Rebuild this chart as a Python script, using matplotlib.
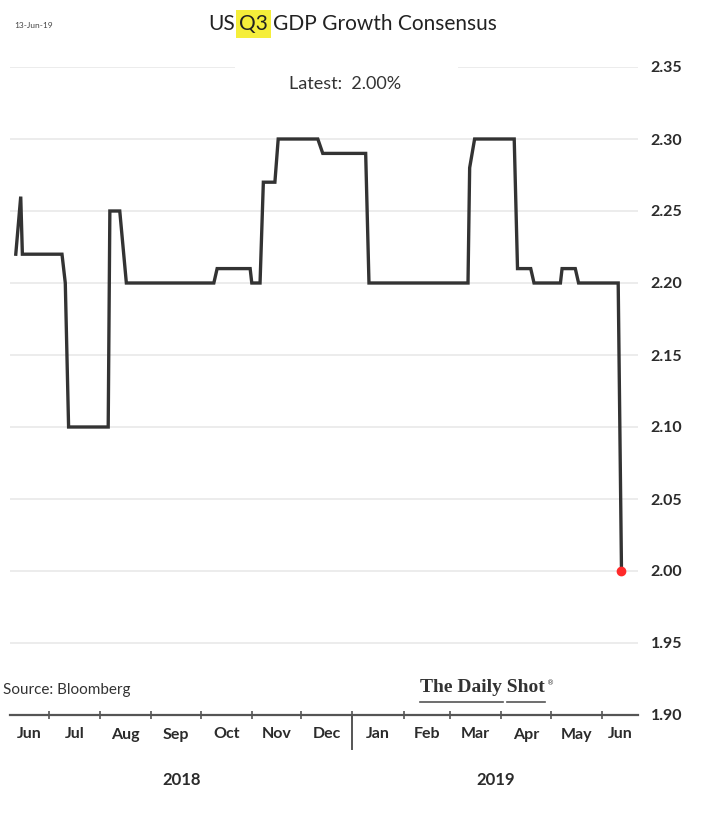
import datetime as dt
import numpy as np
import matplotlib
matplotlib.use("Agg")
import matplotlib.pyplot as plt
import matplotlib.dates as mdates
from matplotlib.patches import Rectangle
from matplotlib.lines import Line2D

plt.rcParams['font.family'] = ['Lato', 'DejaVu Sans']

# consensus estimate, points where the series changes
dates = ["2018-06-11", "2018-06-14", "2018-06-15", "2018-07-09", "2018-07-11",
         "2018-07-13", "2018-08-06", "2018-08-07", "2018-08-13", "2018-08-17",
         "2018-10-09", "2018-10-11", "2018-10-31", "2018-11-01", "2018-11-06",
         "2018-11-08", "2018-11-15", "2018-11-17", "2018-12-11", "2018-12-14",
         "2019-01-09", "2019-01-11", "2019-03-12", "2019-03-13", "2019-03-16",
         "2019-04-09", "2019-04-11", "2019-04-19", "2019-04-21", "2019-05-07",
         "2019-05-08", "2019-05-16", "2019-05-18", "2019-06-11", "2019-06-13"]
values = [2.22, 2.26, 2.22, 2.22, 2.20,
          2.10, 2.10, 2.25, 2.25, 2.20,
          2.20, 2.21, 2.21, 2.20, 2.20,
          2.27, 2.27, 2.30, 2.30, 2.29,
          2.29, 2.20, 2.20, 2.28, 2.30,
          2.30, 2.21, 2.21, 2.20, 2.20,
          2.21, 2.21, 2.20, 2.20, 2.00]
yticks = [1.90, 1.95, 2.00, 2.05, 2.10, 2.15, 2.20, 2.25, 2.30, 2.35]
latest = values[-1]

x = [dt.datetime.strptime(d, "%Y-%m-%d") for d in dates]
x0 = dt.datetime(2018, 6, 7, 12)
x1 = dt.datetime(2019, 6, 23)

fig = plt.figure(figsize=(7.04, 8.25), dpi=100)
ax = fig.add_axes([10 / 704, 110 / 825, 628 / 704, 648 / 825])

for v in yticks[1:]:
    ax.axhline(v, color='#ebebeb', lw=1.3, zorder=1)

ax.plot(x, values, color='#333333', lw=2.4, solid_joinstyle='miter', zorder=3)
ax.plot(x[-1], values[-1], 'o', color='#ff2a2a', ms=6, zorder=4)

ax.set_xlim(x0, x1)
ax.set_ylim(yticks[0], yticks[-1])
for s in ['top', 'left', 'right']:
    ax.spines[s].set_visible(False)
ax.spines['bottom'].set_color('#555555')
ax.spines['bottom'].set_linewidth(1.6)

ax.yaxis.tick_right()
ax.set_yticks(yticks)
ax.set_yticklabels([f"{v:.2f}" for v in yticks])
ax.tick_params(axis='y', length=0, pad=9, labelsize=11.5, labelcolor='#2b2b2b')
for lab in ax.get_yticklabels():
    lab.set_fontweight('bold')

# month boundaries as ticks, names centred in each visible month
month_starts = [dt.datetime(2018, 6, 1)] + \
    [dt.datetime(2018 + (m - 1) // 12, (m - 1) % 12 + 1, 1) for m in range(7, 20)]
ax.set_xticks([m for m in month_starts if x0 < m < x1])
ax.tick_params(axis='x', which='major', direction='inout', length=6,
               width=1.2, color='#555555', labelbottom=False)
centres, names = [], []
for a, b in zip(month_starts[:-1], month_starts[1:]):
    lo, hi = max(a, x0), min(b, x1)
    if lo < hi:
        centres.append(lo + (hi - lo) / 2)
        names.append(a.strftime("%b"))
ax.set_xticks(centres, minor=True)
ax.set_xticklabels(names, minor=True)
ax.tick_params(axis='x', which='minor', length=0, pad=9, labelsize=11.5,
               labelcolor='#2b2b2b')
for lab in ax.get_xticklabels(minor=True):
    lab.set_fontweight('bold')

# year split
jan1 = dt.datetime(2019, 1, 1)
ax.plot([jan1, jan1], [0, -0.052], color='#555555', lw=1.4,
        transform=ax.get_xaxis_transform(), clip_on=False)
trans = ax.get_xaxis_transform()
ax.text(x0 + (jan1 - x0) / 2, -0.10, "2018", transform=trans, ha='center',
        va='center', fontsize=12, fontweight='bold', color='#2b2b2b')
ax.text(jan1 + (x1 - jan1) / 2, -0.10, "2019", transform=trans, ha='center',
        va='center', fontsize=12, fontweight='bold', color='#2b2b2b')

# latest value label over the top gridline
ax.add_patch(Rectangle((0.358, 0.975), 0.355, 0.05, transform=ax.transAxes,
                       facecolor='white', edgecolor='none', zorder=2,
                       clip_on=False))
fig.text(345 / 704, 1 - 84 / 825, f"Latest:  {latest:.2f}%", ha='center',
         va='center', fontsize=13, color='#333333')

# title with highlighted quarter
fig.text(235 / 704, 1 - 24 / 825, "US", ha='right', va='center', fontsize=15,
         color='#222222')
fig.text(253.5 / 704, 1 - 24 / 825, "Q3", ha='center', va='center',
         fontsize=15, color='#222222',
         bbox=dict(boxstyle='square,pad=0.17', facecolor='#f5ee3a',
                   edgecolor='none'))
fig.text(273 / 704, 1 - 24 / 825, "GDP Growth Consensus", ha='left',
         va='center', fontsize=15, color='#222222')
fig.text(14 / 704, 1 - 26 / 825, "13-Jun-19", ha='left', va='center',
         fontsize=6, color='#444444')

fig.text(3 / 704, 1 - 690 / 825, "Source: Bloomberg", ha='left', va='center',
         fontsize=11, color='#333333')
fig.text(420 / 704, 1 - 688 / 825, "The Daily Shot", ha='left', va='center',
         fontsize=14, fontweight='bold', color='#333333',
         family='Liberation Serif')
fig.text(547 / 704, 1 - 683 / 825, "\u00ae", ha='left', va='center',
         fontsize=5, color='#333333', family='DejaVu Sans')
for a, b in [(420, 503), (507, 545)]:
    fig.add_artist(Line2D([a / 704, b / 704], [1 - 702 / 825] * 2,
                          color='#555555', lw=1.2))

fig.savefig("out.png", dpi=100, facecolor='white')
